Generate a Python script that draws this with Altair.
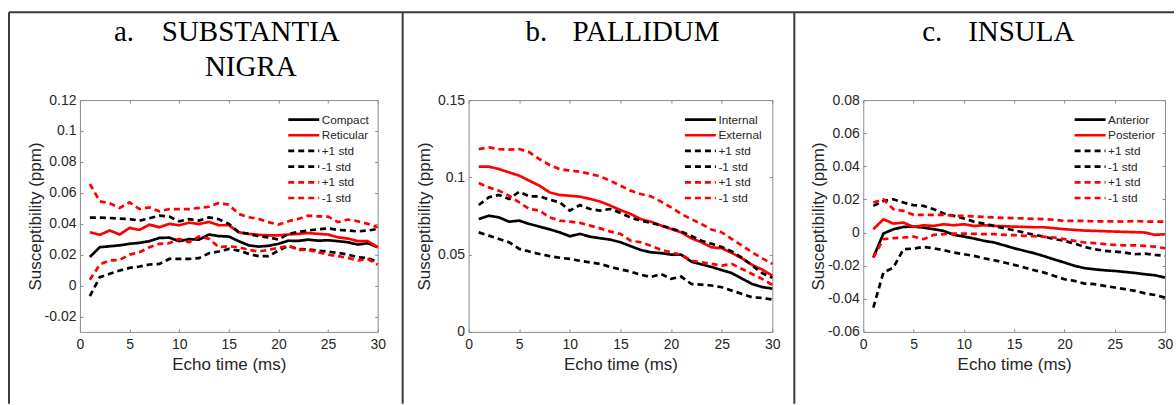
import altair as alt
import pandas as pd

# ---------------- data ----------------
echo_times = list(range(1, 31))
x_ticks = [0, 5, 10, 15, 20, 25, 30]

panel_letters = ["a.", "b.", "c."]
panel_names = ["SUBSTANTIA\nNIGRA", "PALLIDUM", "INSULA"]

# a. substantia nigra
sn_series = ["Compact", "Reticular", "+1 std|k", "-1 std|k", "+1 std|r", "-1 std|r"]
sn_compact = [0.0185, 0.0248, 0.0254, 0.026, 0.027, 0.0276, 0.0287, 0.0308, 0.031, 0.0287,
              0.030, 0.0297, 0.033, 0.032, 0.0317, 0.0287, 0.026, 0.0252, 0.0257, 0.027,
              0.029, 0.0289, 0.0297, 0.029, 0.0293, 0.0287, 0.028, 0.0265, 0.0274, 0.0248]
sn_reticular = [0.0345, 0.0328, 0.0356, 0.033, 0.0373, 0.036, 0.0394, 0.0377, 0.0399, 0.039,
                0.0407, 0.0398, 0.0412, 0.039, 0.039, 0.0345, 0.0334, 0.0328, 0.0325, 0.0325,
                0.033, 0.0334, 0.034, 0.0334, 0.033, 0.0312, 0.0304, 0.0287, 0.0287, 0.0248]
sn_compact_p = [0.044, 0.044, 0.0437, 0.0433, 0.043, 0.042, 0.0435, 0.0452, 0.0446, 0.0416,
                0.043, 0.042, 0.0441, 0.0429, 0.0399, 0.0345, 0.0334, 0.0319, 0.0312, 0.0297,
                0.0334, 0.0347, 0.0356, 0.0364, 0.037, 0.036, 0.0356, 0.035, 0.0356, 0.0366]
sn_compact_m = [-0.0069, 0.0054, 0.0076, 0.0097, 0.0114, 0.0123, 0.0136, 0.014, 0.0172, 0.0172,
                0.0172, 0.0177, 0.0209, 0.022, 0.0237, 0.0226, 0.0205, 0.019, 0.019, 0.0226,
                0.0256, 0.0237, 0.0233, 0.0226, 0.022, 0.0211, 0.02, 0.0183, 0.0177, 0.0151]
sn_reticular_p = [0.0657, 0.0545, 0.0532, 0.0502, 0.0538, 0.0495, 0.0506, 0.048, 0.0495, 0.0495,
                  0.0495, 0.0502, 0.051, 0.0534, 0.0523, 0.0463, 0.0442, 0.0431, 0.041, 0.0394,
                  0.0416, 0.0431, 0.0452, 0.0448, 0.0446, 0.041, 0.0427, 0.0416, 0.0399, 0.0377]
sn_reticular_m = [0.0037, 0.0136, 0.0162, 0.0166, 0.02, 0.0215, 0.0248, 0.027, 0.0274, 0.0302,
                  0.028, 0.0317, 0.0302, 0.0248, 0.0254, 0.0248, 0.0231, 0.022, 0.0231, 0.0243,
                  0.0258, 0.0231, 0.0231, 0.0215, 0.02, 0.019, 0.0179, 0.0162, 0.0172, 0.0136]

# b. pallidum
gp_series = ["Internal", "External", "+1 std|k", "-1 std|k", "+1 std|r", "-1 std|r"]
gp_internal = [0.073, 0.0752, 0.0741, 0.0713, 0.072, 0.0698, 0.0681, 0.0664, 0.0644, 0.0619,
               0.0634, 0.0616, 0.0606, 0.0597, 0.058, 0.0555, 0.053, 0.0515, 0.051, 0.050,
               0.050, 0.0455, 0.0437, 0.042, 0.040, 0.038, 0.0345, 0.031, 0.029, 0.028]
gp_external = [0.1069, 0.1069, 0.1054, 0.1032, 0.1011, 0.0978, 0.0946, 0.0903, 0.0886, 0.0881,
               0.0875, 0.086, 0.0843, 0.0817, 0.0788, 0.0763, 0.073, 0.0713, 0.0688, 0.0666,
               0.0644, 0.0606, 0.058, 0.0547, 0.0541, 0.0511, 0.0476, 0.0433, 0.0403, 0.0364]
gp_internal_p = [0.0821, 0.0871, 0.0886, 0.086, 0.0907, 0.0877, 0.0877, 0.0856, 0.0838, 0.0785,
                 0.0821, 0.0795, 0.0785, 0.0795, 0.077, 0.074, 0.072, 0.0705, 0.069, 0.067,
                 0.065, 0.062, 0.059, 0.057, 0.055, 0.052, 0.048, 0.043, 0.038, 0.035]
gp_internal_m = [0.0644, 0.0623, 0.0601, 0.058, 0.0537, 0.052, 0.0504, 0.049, 0.048, 0.0472,
                 0.046, 0.045, 0.044, 0.042, 0.0405, 0.039, 0.037, 0.0355, 0.0375, 0.0343,
                 0.0358, 0.031, 0.0306, 0.030, 0.0289, 0.0267, 0.0246, 0.0224, 0.022, 0.0209]
gp_external_p = [0.1183, 0.1194, 0.1183, 0.1179, 0.1183, 0.1162, 0.1118, 0.108, 0.1054, 0.1043,
                 0.1037, 0.1022, 0.1006, 0.0978, 0.0946, 0.0914, 0.0892, 0.0877, 0.0843, 0.0806,
                 0.0763, 0.073, 0.0698, 0.0662, 0.0644, 0.0601, 0.0558, 0.0515, 0.0476, 0.044]
gp_external_m = [0.0963, 0.0935, 0.0914, 0.0881, 0.0838, 0.0795, 0.0785, 0.0741, 0.072, 0.0713,
                 0.0705, 0.0688, 0.067, 0.0649, 0.0634, 0.059, 0.058, 0.0558, 0.0532, 0.0515,
                 0.0498, 0.0461, 0.045, 0.044, 0.0429, 0.044, 0.0407, 0.0375, 0.0343, 0.0304]

# c. insula
ins_series = ["Anterior", "Posterior", "+1 std|k", "-1 std|k", "+1 std|r", "-1 std|r"]
ins_anterior = [-0.0151, -0.0006, 0.002, 0.0034, 0.0036, 0.003, 0.002, 0.001, -0.0014, -0.0024,
                -0.0036, -0.005, -0.006, -0.0077, -0.0095, -0.011, -0.0125, -0.0143, -0.0163, -0.0181,
                -0.0201, -0.0215, -0.0222, -0.0228, -0.0232, -0.0238, -0.0244, -0.0252, -0.0258, -0.0272]
ins_posterior = [0.002, 0.008, 0.0054, 0.006, 0.0034, 0.0044, 0.004, 0.005, 0.0044, 0.005,
                 0.004, 0.0044, 0.004, 0.0038, 0.0036, 0.0034, 0.0032, 0.0032, 0.0026, 0.002,
                 0.0016, 0.0012, 0.001, 0.0008, 0.0006, 0.0004, 0.0002, 0.0, -0.0014, -0.001]
ins_anterior_p = [0.0161, 0.0191, 0.0201, 0.0181, 0.0165, 0.0161, 0.0141, 0.0115, 0.0101, 0.0085,
                  0.0066, 0.0054, 0.004, 0.0026, 0.0014, 0.0, -0.0014, -0.0024, -0.004, -0.005,
                  -0.0066, -0.0087, -0.0101, -0.011, -0.0115, -0.0121, -0.0131, -0.0127, -0.0135, -0.0141]
ins_anterior_m = [-0.0453, -0.0242, -0.0211, -0.0101, -0.0097, -0.0087, -0.0095, -0.0107, -0.0121, -0.0131,
                  -0.0141, -0.0155, -0.0167, -0.0181, -0.0195, -0.0211, -0.0228, -0.0242, -0.0262, -0.0282,
                  -0.0292, -0.0308, -0.0312, -0.0322, -0.0332, -0.0342, -0.0352, -0.0367, -0.0377, -0.0393]
ins_posterior_p = [0.0181, 0.0201, 0.0141, 0.0131, 0.0107, 0.0107, 0.0107, 0.0107, 0.0101, 0.0101,
                   0.0097, 0.0095, 0.0091, 0.0089, 0.0087, 0.0085, 0.0083, 0.0081, 0.0077, 0.007,
                   0.007, 0.007, 0.0068, 0.0068, 0.0068, 0.0066, 0.007, 0.0066, 0.0066, 0.0066]
ins_posterior_m = [-0.0151, -0.004, -0.0034, -0.003, -0.0024, -0.004, -0.0014, -0.001, -0.0006, -0.0006,
                   -0.0008, -0.001, -0.001, -0.0014, -0.0016, -0.002, -0.0022, -0.0026, -0.003, -0.004,
                   -0.005, -0.006, -0.0064, -0.007, -0.0075, -0.0077, -0.0077, -0.0081, -0.0085, -0.0095]

sn_y_domain = [-0.03, 0.12]
sn_y_ticks = [-0.02, 0, 0.02, 0.04, 0.06, 0.08, 0.1, 0.12]
gp_y_domain = [0, 0.15]
gp_y_ticks = [0, 0.05, 0.1, 0.15]
ins_y_domain = [-0.06, 0.08]
ins_y_ticks = [-0.06, -0.04, -0.02, 0, 0.02, 0.04, 0.06, 0.08]

# ---------------- style ----------------
SANS = "Liberation Sans"
SERIF = "Liberation Serif"
TXT = "#262626"
BOX = "#8c8c8c"
FRAME = "#3a3a3a"
series_colors = ["#000000", "#ff0000", "#000000", "#000000", "#ff0000", "#ff0000"]
series_dash = [[1, 0], [1, 0], [6, 4], [6, 4], [6, 4], [6, 4]]
series_width = [2.7, 2.7, 1.8, 1.8, 1.8, 1.8]
PLOT_H = 232
TICK = 3


def long_df(names, arrays):
    rows = []
    for name, arr in zip(names, arrays):
        for t, v in zip(echo_times, arr):
            rows.append({"echo": t, "value": v, "series": name})
    return pd.DataFrame(rows)


def one_row():
    return pd.DataFrame({"k": [0]})


def panel(names, arrays, y_domain, y_ticks, width, legend_x, letter, name,
          letter_x, name_x, name_align, extra):
    df = long_df(names, arrays)
    leg = alt.Legend(title=None, orient="none", legendX=legend_x, legendY=13.5,
                     symbolType="stroke", symbolSize=961, clipHeight=12,
                     rowPadding=2.7, labelOffset=1, padding=0,
                     labelFont=SANS, labelFontSize=11.8, labelColor=TXT,
                     labelExpr="split(datum.label, '|')[0]")
    x_bottom = alt.Axis(values=x_ticks, title="Echo time (ms)", orient="bottom",
                        offset=-TICK, tickSize=TICK, domain=False, grid=False,
                        labelPadding=6, titlePadding=5, labelFlush=False, labelOverlap=False)
    y_left = alt.Axis(values=y_ticks, title="Susceptibility (ppm)", orient="left",
                      offset=-TICK, tickSize=TICK, domain=False, grid=False,
                      labelPadding=4, titlePadding=4.5, minExtent=34, maxExtent=34,
                      labelFlush=False, labelOverlap=False,
                      labelExpr="replace(format(datum.value, '.4~g'), '\u2212', '-')")
    x_top = alt.Axis(values=x_ticks, title=None, orient="top", labels=False,
                     offset=-TICK, tickSize=TICK, domain=False, grid=False)
    y_right = alt.Axis(values=y_ticks, title=None, orient="right", labels=False,
                       offset=-TICK, tickSize=TICK, domain=False, grid=False)

    lines = alt.Chart(df).mark_line(strokeCap="butt").encode(
        x=alt.X("echo:Q", scale=alt.Scale(domain=[0, 30], nice=False, zero=False), axis=x_bottom),
        y=alt.Y("value:Q", scale=alt.Scale(domain=y_domain, nice=False, zero=False), axis=y_left),
        color=alt.Color("series:N", scale=alt.Scale(domain=names, range=series_colors), legend=leg),
        strokeDash=alt.StrokeDash("series:N", scale=alt.Scale(domain=names, range=series_dash), legend=leg),
        strokeWidth=alt.StrokeWidth("series:N", scale=alt.Scale(domain=names, range=series_width), legend=leg),
    )
    ticks = alt.Chart(df).mark_point(opacity=0).encode(
        x=alt.X("echo:Q", axis=x_top),
        y=alt.Y("value:Q", axis=y_right),
    )
    t_letter = alt.Chart(pd.DataFrame({"t": [letter]})).mark_text(
        font=SERIF, fontSize=29, align="left", baseline="alphabetic", color="black"
    ).encode(text="t:N", x=alt.value(letter_x), y=alt.value(-59))
    t_name = alt.Chart(pd.DataFrame({"t": [name]})).mark_text(
        font=SERIF, fontSize=29, align=name_align, baseline="alphabetic", color="black",
        lineBreak="\n", lineHeight=35
    ).encode(text="t:N", x=alt.value(name_x), y=alt.value(-59))
    return alt.layer(lines, ticks, t_letter, t_name, *extra).properties(width=width, height=PLOT_H)


def frame_rule(**enc):
    return alt.Chart(one_row()).mark_rule(color=FRAME, strokeWidth=2).encode(**enc)


frame_a = [
    frame_rule(x=alt.value(-71), x2=alt.value(1095), y=alt.value(-88)),
    frame_rule(x=alt.value(-71), y=alt.value(-88), y2=alt.value(304)),
    frame_rule(x=alt.value(323), y=alt.value(-88), y2=alt.value(304)),
]
frame_c = [
    frame_rule(x=alt.value(-69), y=alt.value(-88), y2=alt.value(304)),
]

pa = panel(sn_series, [sn_compact, sn_reticular, sn_compact_p, sn_compact_m, sn_reticular_p, sn_reticular_m],
           sn_y_domain, sn_y_ticks, 298, 207, panel_letters[0], panel_names[0], 34, 171, "center", frame_a)
pb = panel(gp_series, [gp_internal, gp_external, gp_internal_p, gp_internal_m, gp_external_p, gp_external_m],
           gp_y_domain, gp_y_ticks, 304, 215, panel_letters[1], panel_names[1], 57, 104, "left", [])
pc = panel(ins_series, [ins_anterior, ins_posterior, ins_anterior_p, ins_anterior_m, ins_posterior_p, ins_posterior_m],
           ins_y_domain, ins_y_ticks, 302, 210, panel_letters[2], panel_names[2], 59, 105, "left", frame_c)

chart = alt.hconcat(pa, pb, pc, spacing=91, bounds="flush").resolve_scale(
    x="independent", y="independent", color="independent",
    strokeDash="independent", strokeWidth="independent"
).resolve_legend(
    color="independent", strokeDash="independent", strokeWidth="independent"
).properties(
    padding={"left": 7, "top": 10, "right": 0, "bottom": 0},
    background="white",
).configure_view(
    stroke=BOX, strokeWidth=1
).configure_axis(
    labelFont=SANS, labelFontSize=14, labelColor=TXT,
    titleFont=SANS, titleFontSize=17, titleColor=TXT, titleFontWeight="normal",
    tickColor=BOX, tickWidth=1,
)

chart.save("out.html", embed_options={"renderer": "svg", "actions": False})
